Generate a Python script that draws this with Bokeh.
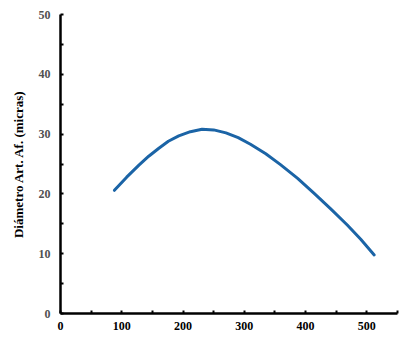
from bokeh.plotting import figure
from bokeh.models import FixedTicker, Range1d
from bokeh.embed import file_html
from bokeh.resources import INLINE

x_vals = [88, 108, 128, 144, 160, 176, 193, 212, 231, 250, 270, 290, 310, 335, 359, 387, 414, 441, 468, 490, 512]
y_vals = [20.6, 22.8, 24.8, 26.3, 27.6, 28.8, 29.7, 30.4, 30.8, 30.7, 30.2, 29.4, 28.3, 26.7, 24.9, 22.6, 20.1, 17.5, 14.8, 12.4, 9.8]
x_ticks = [0, 100, 200, 300, 400, 500]
x_minor = [50, 150, 250, 350, 450, 550]
y_ticks = [0, 10, 20, 30, 40, 50]
y_minor = [5, 15, 25, 35, 45]

p = figure(width=406, height=353, output_backend="svg", toolbar_location=None,
           x_range=Range1d(0, 550), y_range=Range1d(0, 50),
           min_border_left=60, min_border_right=9, min_border_top=14, min_border_bottom=40)
p.outline_line_color = None
p.xgrid.visible = False
p.ygrid.visible = False

p.line(x_vals, y_vals, line_color="#1b64a6", line_width=3, line_join="round", line_cap="round")

for ax, ticks, minor in ((p.xaxis[0], x_ticks, x_minor), (p.yaxis[0], y_ticks, y_minor)):
    ax.ticker = FixedTicker(ticks=ticks, minor_ticks=minor)
    ax.axis_line_width = 2.5
    ax.axis_line_color = "black"
    ax.major_tick_in = 3
    ax.major_tick_out = 0
    ax.minor_tick_in = 3
    ax.minor_tick_out = 0
    ax.major_tick_line_width = 2
    ax.minor_tick_line_width = 2
    ax.major_label_text_font = "Liberation Serif"
    ax.major_label_text_font_style = "bold"
    ax.major_label_text_font_size = "12px"

p.xaxis.major_label_text_color = "black"
p.yaxis.major_label_text_color = "#505050"
p.xaxis.major_label_standoff = 8
p.yaxis.major_label_standoff = 10
p.yaxis.axis_label = "Diámetro Art. Af. (micras)"
p.yaxis.axis_label_text_font = "Liberation Serif"
p.yaxis.axis_label_text_font_style = "bold"
p.yaxis.axis_label_text_font_size = "13px"
p.yaxis.axis_label_text_color = "black"
p.yaxis.axis_label_standoff = 10

open("out.html", "w").write(file_html(p, INLINE))
